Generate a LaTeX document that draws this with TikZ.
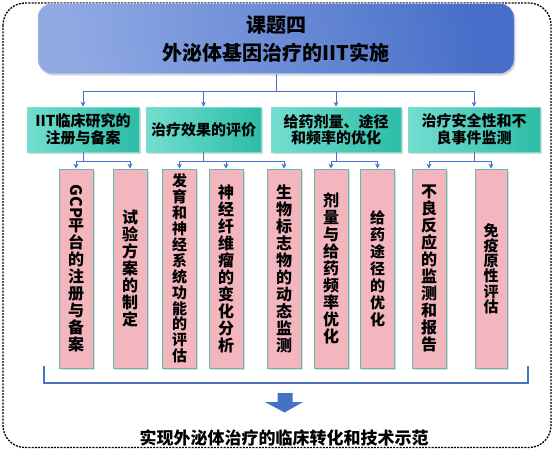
\documentclass[tikz,border=0pt]{standalone}
\usepackage{fontspec}
\setmainfont{Noto Sans CJK SC}
\usetikzlibrary{shadows,arrows.meta}
\definecolor{lineblue}{RGB}{74,114,196}
\definecolor{ttlA}{RGB}{145,170,228}
\definecolor{ttlB}{RGB}{70,110,200}
\definecolor{grnA}{RGB}{115,222,208}
\definecolor{grnB}{RGB}{44,188,166}
\definecolor{grnE}{RGB}{125,222,208}
\definecolor{pinkF}{RGB}{243,182,190}
\definecolor{pinkE}{RGB}{95,188,172}
\definecolor{arrowblue}{RGB}{68,114,196}
\tikzset{
  conn/.style={draw=lineblue, line width=0.9pt},
  arr/.style={conn, -{Stealth[length=5pt,width=5pt]}},
  titlebox/.style={rounded corners=14pt, left color=ttlA, right color=ttlB, shading angle=100,
    draw=ttlA!70!white, line width=0.5pt,
    drop shadow={opacity=0.3, shadow xshift=1.5pt, shadow yshift=-2pt},
    minimum width=476pt, minimum height=70pt, align=center,
    font=\fontsize{20}{28}\selectfont\bfseries},
  greenbox/.style={left color=grnA, right color=grnB, draw=grnE, line width=0.6pt,
    drop shadow={opacity=0.3, shadow xshift=1.5pt, shadow yshift=-2pt},
    minimum height=45pt, align=center, inner sep=0pt,
    font=\fontsize{15}{16.5}\selectfont\bfseries},
  pinkbox/.style={fill=pinkF, draw=pinkE, line width=0.8pt,
    drop shadow={opacity=0.3, shadow xshift=1.5pt, shadow yshift=-2pt},
    minimum width=34pt, minimum height=199pt, align=center, inner sep=0pt,
    font=\fontsize{16}{17}\selectfont\bfseries},
  bottomtext/.style={font=\fontsize{17}{20}\selectfont\bfseries},
}
\begin{document}
\begin{tikzpicture}[x=1pt,y=-1pt]
\useasboundingbox (0,0) rectangle (554,450);
% outer dashed frame
\draw[dashed, dash pattern=on 2pt off 1.2pt, line width=1.3pt, rounded corners=22pt] (3,3) rectangle (551,447.5);
% title
\node[titlebox] (title) at (276,38.5) {课题四\\外泌体基因治疗的IIT实施};
% green boxes
\node[greenbox, minimum width=112pt] (g1) at (83,129.5) {IIT临床研究的\\注册与备案};
\node[greenbox, minimum width=115pt] (g2) at (203.5,129.5) {治疗效果的评价};
\node[greenbox, minimum width=130pt] (g3) at (336,129.5) {给药剂量、途径\\和频率的优化};
\node[greenbox, minimum width=132pt] (g4) at (474,129.5) {治疗安全性和不\\良事件监测};
% pink boxes
\node[pinkbox] (p1) at (76,268.5) {\rotatebox{-90}{GCP}\\平\\台\\的\\注\\册\\与\\备\\案};
\node[pinkbox] (p2) at (130,268.5) {试\\验\\方\\案\\的\\制\\定};
\node[pinkbox, font=\fontsize{15}{15.9}\selectfont\bfseries] (p3) at (179.5,268.5) {发\\育\\和\\神\\经\\系\\统\\功\\能\\的\\评\\估};
\node[pinkbox] (p4) at (226,268.5) {神\\经\\纤\\维\\瘤\\的\\变\\化\\分\\析};
\node[pinkbox] (p5) at (284,268.5) {生\\物\\标\\志\\物\\的\\动\\态\\监\\测};
\node[pinkbox] (p6) at (331,268.5) {剂\\量\\与\\给\\药\\频\\率\\优\\化};
\node[pinkbox, font=\fontsize{15}{17}\selectfont\bfseries] (p7) at (377.5,268.5) {给\\药\\途\\径\\的\\优\\化};
\node[pinkbox] (p8) at (429,268.5) {不\\良\\反\\应\\的\\监\\测\\和\\报\\告};
\node[pinkbox, minimum width=32pt, font=\fontsize{15}{15.3}\selectfont\bfseries] (p9) at (491,268.5) {免\\疫\\原\\性\\评\\估};
% connectors title -> green
\coordinate (hub) at (276,91);
\draw[conn] (title.south) -- (hub);
\draw[arr] (hub) -| (g1.north);
\draw[arr] (hub) -| (g2.north);
\draw[arr] (hub) -| (g3.north);
\draw[arr] (hub) -| (g4.north);
% green -> pink
\coordinate (h1) at (83,161);
\coordinate (h2) at (203.5,161);
\coordinate (h3) at (336,161);
\coordinate (h4) at (474,161);
\draw[conn] (g1.south) -- (h1);
\draw[conn] (g2.south) -- (h2);
\draw[conn] (g3.south) -- (h3);
\draw[conn] (g4.south) -- (h4);
\draw[arr] (h1) -| (p1.north);
\draw[arr] (h1) -| (p2.north);
\draw[arr] (h2) -| (p3.north);
\draw[arr] (h2) -| (p4.north);
\draw[arr] (h2) -| (p5.north);
\draw[arr] (h3) -| (p6.north);
\draw[arr] (h3) -| (p7.north);
\draw[arr] (h4) -| (p8.north);
\draw[arr] (h4) -| (p9.north);
% bracket
\coordinate (bl) at (44,366);
\coordinate (br) at (528,366);
\draw[conn, line width=1.1pt] (bl) -- (44,383) -- (528,383) -- (br);
% big arrow
\fill[arrowblue] (277.5,393) -- (292.5,393) -- (292.5,402) -- (303,402) -- (284.5,412.5) -- (265,402) -- (277.5,402) -- cycle;
% bottom text
\node[bottomtext] (result) at (284,438) {实现外泌体治疗的临床转化和技术示范};
\end{tikzpicture}
\end{document}
